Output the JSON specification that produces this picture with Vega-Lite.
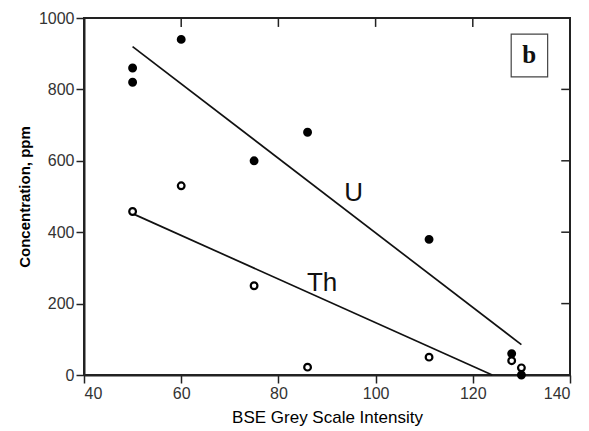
{
  "$schema": "https://vega.github.io/schema/vega-lite/v6.json",
  "width": 486,
  "height": 357,
  "autosize": {"type": "none"},
  "padding": {"left": 84, "top": 18, "right": 19, "bottom": 56},
  "background": "white",
  "config": {
    "view": {"stroke": "#222", "strokeWidth": 2},
    "font": "Liberation Sans",
    "axis": {
      "grid": false,
      "domainColor": "#222",
      "domainWidth": 2,
      "tickColor": "#222",
      "tickWidth": 1.5,
      "tickSize": 8,
      "labelFont": "Liberation Sans",
      "labelFontSize": 16,
      "labelColor": "#333",
      "titleFont": "Liberation Sans",
      "titleColor": "#000"
    }
  },
  "datasets": {
    "points": [
      {"element": "U", "intensity": 50, "ppm": 860},
      {"element": "U", "intensity": 50, "ppm": 820},
      {"element": "U", "intensity": 60, "ppm": 940},
      {"element": "U", "intensity": 75, "ppm": 600},
      {"element": "U", "intensity": 86, "ppm": 680},
      {"element": "U", "intensity": 111, "ppm": 380},
      {"element": "U", "intensity": 128, "ppm": 60},
      {"element": "U", "intensity": 130, "ppm": 0},
      {"element": "Th", "intensity": 50, "ppm": 458},
      {"element": "Th", "intensity": 60, "ppm": 530},
      {"element": "Th", "intensity": 75, "ppm": 250},
      {"element": "Th", "intensity": 86, "ppm": 22},
      {"element": "Th", "intensity": 111, "ppm": 50},
      {"element": "Th", "intensity": 128, "ppm": 40},
      {"element": "Th", "intensity": 130, "ppm": 20}
    ],
    "fits": [
      {"element": "U", "intensity": 50, "ppm": 920},
      {"element": "U", "intensity": 130, "ppm": 85},
      {"element": "Th", "intensity": 50, "ppm": 452},
      {"element": "Th", "intensity": 124, "ppm": 0}
    ],
    "labels": [
      {"label": "U", "intensity": 95.5, "ppm": 510},
      {"label": "Th", "intensity": 89, "ppm": 258}
    ],
    "panel": [
      {"label": "b", "intensity": 131.6, "ppm": 895, "x1": 127.9, "x2": 135.4, "y1": 835, "y2": 955}
    ],
    "topTicks": [{"v": 60}, {"v": 80}, {"v": 100}, {"v": 120}],
    "rightTicks": [{"v": 200}, {"v": 400}, {"v": 600}, {"v": 800}]
  },
  "layer": [
    {
      "data": {"name": "fits"},
      "mark": {"type": "line", "color": "#111", "strokeWidth": 1.7},
      "encoding": {
        "x": {"field": "intensity", "type": "quantitative", "scale": {"domain": [40, 140], "nice": false},
              "axis": {"values": [40, 60, 80, 100, 120, 140], "title": "BSE Grey Scale Intensity", "titleFontSize": 17, "titleFontWeight": "normal", "titlePadding": 8, "labelPadding": 2}},
        "y": {"field": "ppm", "type": "quantitative", "scale": {"domain": [0, 1000], "nice": false},
              "axis": {"format": "d", "values": [0, 200, 400, 600, 800, 1000], "title": "Concentration, ppm", "titleFontSize": 15, "titleFontWeight": "bold", "titlePadding": 6, "labelPadding": 2}},
        "detail": {"field": "element"}
      }
    },
    {
      "data": {"name": "topTicks"},
      "mark": {"type": "rule", "color": "#222", "strokeWidth": 1.5},
      "encoding": {
        "x": {"field": "v", "type": "quantitative"},
        "y": {"datum": 1000, "type": "quantitative"},
        "y2": {"datum": 975}
      }
    },
    {
      "data": {"name": "rightTicks"},
      "mark": {"type": "rule", "color": "#222", "strokeWidth": 1.5},
      "encoding": {
        "y": {"field": "v", "type": "quantitative"},
        "x": {"datum": 140, "type": "quantitative"},
        "x2": {"datum": 138.2}
      }
    },
    {
      "data": {"name": "points"},
      "mark": {"type": "point", "shape": "circle", "filled": true, "stroke": "#000", "strokeWidth": 2.2, "size": 45, "opacity": 1},
      "encoding": {
        "x": {"field": "intensity", "type": "quantitative"},
        "y": {"field": "ppm", "type": "quantitative"},
        "fill": {"field": "element", "type": "nominal", "scale": {"domain": ["U", "Th"], "range": ["#000", "#fff"]}, "legend": null}
      }
    },
    {
      "data": {"name": "labels"},
      "mark": {"type": "text", "font": "Liberation Sans", "fontSize": 26, "color": "#111"},
      "encoding": {
        "x": {"field": "intensity", "type": "quantitative"},
        "y": {"field": "ppm", "type": "quantitative"},
        "text": {"field": "label"}
      }
    },
    {
      "data": {"name": "panel"},
      "mark": {"type": "rect", "fill": "white", "stroke": "#444", "strokeWidth": 1.2},
      "encoding": {
        "x": {"field": "x1", "type": "quantitative"},
        "x2": {"field": "x2"},
        "y": {"field": "y1", "type": "quantitative"},
        "y2": {"field": "y2"}
      }
    },
    {
      "data": {"name": "panel"},
      "mark": {"type": "text", "font": "Liberation Serif", "fontWeight": "bold", "fontSize": 25, "color": "#111"},
      "encoding": {
        "x": {"field": "intensity", "type": "quantitative"},
        "y": {"field": "ppm", "type": "quantitative"},
        "text": {"field": "label"}
      }
    }
  ]
}
